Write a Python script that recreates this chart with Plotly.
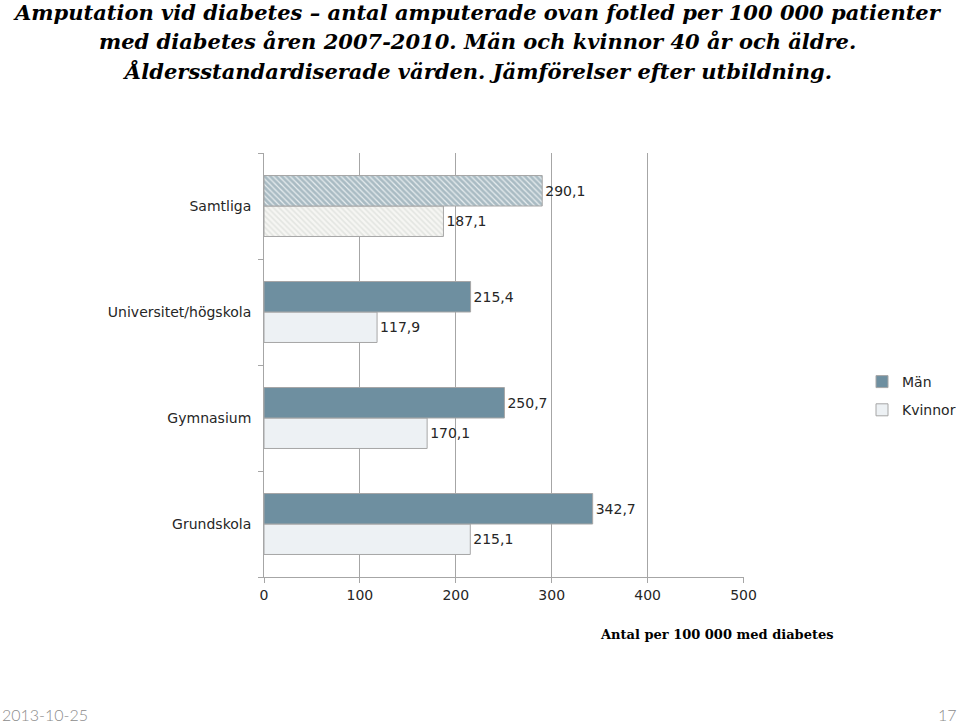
import plotly.graph_objects as go

categories = ["Grundskola", "Gymnasium", "Universitet/högskola", "Samtliga"]
man_values = [342.7, 250.7, 215.4, 290.1]
kvinnor_values = [215.1, 170.1, 117.9, 187.1]
man_labels = ["342,7", "250,7", "215,4", "290,1"]
kvinnor_labels = ["215,1", "170,1", "117,9", "187,1"]
x_ticks = [0, 100, 200, 300, 400, 500]
title_lines = [
    "Amputation vid diabetes – antal amputerade ovan fotled per 100 000 patienter",
    "med diabetes åren 2007-2010. Män och kvinnor 40 år och äldre.",
    "Åldersstandardiserade värden. Jämförelser efter utbildning.",
]

MAN_COLOR = "#6e8fa0"
KV_COLOR = "#edf1f4"
EDGE = "#a6a6a6"
LABEL_FONT = dict(family="DejaVu Sans, sans-serif", size=14, color="#262626")

W, H = 960, 724
PL, PR, PT, PB = 264, 216, 153, 147
PW, PH = W - PL - PR, H - PT - PB


def px(x):
    return (x - PL) / PW


def py(y):
    return 1 - (y - PT) / PH


fig = go.Figure()
fig.add_trace(go.Bar(
    y=categories, x=kvinnor_values, orientation="h", name="Kvinnor",
    text=kvinnor_labels, textposition="outside", textfont=LABEL_FONT,
    cliponaxis=False, legendrank=2, legendgroup="k",
    marker=dict(color=KV_COLOR, line=dict(color=EDGE, width=1),
                pattern=dict(shape=["", "", "", "\\"], fgcolor="#cfd3cf",
                             bgcolor="#f6f6f3", size=4, solidity=0.4)),
))
fig.add_trace(go.Bar(
    y=categories, x=man_values, orientation="h", name="Män",
    text=man_labels, textposition="outside", textfont=LABEL_FONT,
    cliponaxis=False, legendrank=1, legendgroup="m",
    marker=dict(color=MAN_COLOR, line=dict(color=EDGE, width=1),
                pattern=dict(shape=["", "", "", "\\"], fgcolor="#6a8796",
                             bgcolor="#e8eef0", size=4, solidity=0.7)),
))

fig.update_layout(
    width=W, height=H,
    paper_bgcolor="white", plot_bgcolor="white",
    margin=dict(l=PL, r=PR, t=PT, b=PB, autoexpand=False),
    barmode="group", bargap=0.425, bargroupgap=0,
    legend=dict(x=px(862), xanchor="left", y=py(396), yanchor="middle",
                font=dict(family="DejaVu Sans, sans-serif", size=14, color="#262626"),
                itemwidth=30, tracegroupgap=7, bgcolor="rgba(0,0,0,0)"),
    showlegend=True,
    xaxis=dict(range=[0, 500.5], tickvals=x_ticks, ticktext=[str(v) for v in x_ticks],
               showgrid=True, gridcolor="#a6a6a6", gridwidth=1,
               showline=True, linecolor="#a6a6a6", linewidth=1,
               ticks="outside", ticklen=5, tickcolor="#a6a6a6",
               zeroline=False, tickfont=LABEL_FONT, fixedrange=True),
    yaxis=dict(type="category", categoryorder="array", categoryarray=categories,
               showline=True, linecolor="#a6a6a6", linewidth=1,
               ticks="outside", ticklen=5, tickcolor="#a6a6a6", tickson="boundaries",
               showgrid=False, tickfont=LABEL_FONT, ticksuffix="  ", fixedrange=True),
)

for line, yc in zip(title_lines, [12, 42, 72]):
    fig.add_annotation(text=line, xref="paper", yref="paper",
                       x=px(477), xanchor="center", y=py(yc), yanchor="middle",
                       showarrow=False,
                       font=dict(family="DejaVu Serif, serif", size=21, color="black",
                                 weight="bold", style="italic"))
fig.add_annotation(text="<b>Antal per 100 000 med diabetes</b>", xref="paper", yref="paper",
                   x=px(836), xanchor="right", y=py(634), yanchor="middle", showarrow=False,
                   font=dict(family="DejaVu Serif, serif", size=13, color="black"))
fig.add_annotation(text="2013-10-25", xref="paper", yref="paper",
                   x=px(0), xanchor="left", y=py(714), yanchor="middle",
                   showarrow=False,
                   font=dict(family="Lato, sans-serif", size=16, color="#8c8c8c", weight=300))
fig.add_annotation(text="17", xref="paper", yref="paper",
                   x=px(959), xanchor="right", y=py(714), yanchor="middle",
                   showarrow=False,
                   font=dict(family="Lato, sans-serif", size=16, color="#8c8c8c", weight=300))

fig.write_html("out.html", config={"displayModeBar": False},
               post_script="document.body.style.margin='0';")
